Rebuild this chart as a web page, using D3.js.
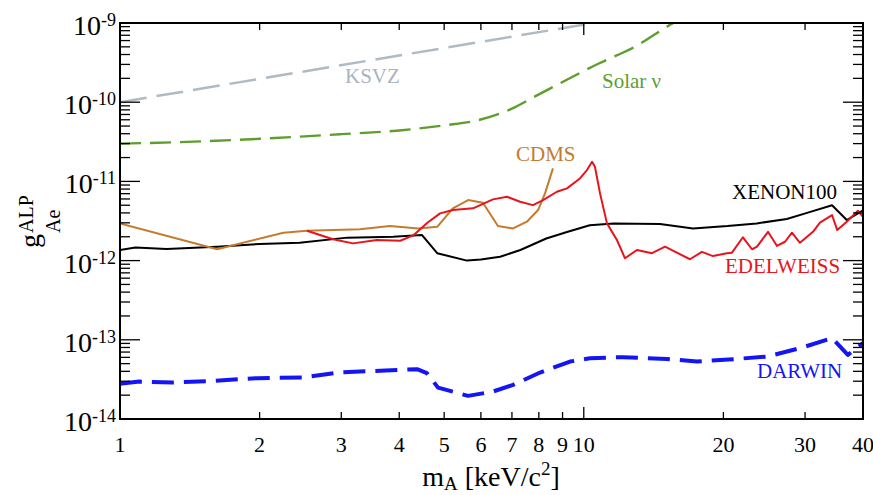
<!DOCTYPE html>
<html>
<head>
<meta charset="utf-8">
<script src="https://cdn.jsdelivr.net/npm/d3@7"></script>
<style>
  body { margin: 0; background: #fff; }
  text { font-family: "Liberation Serif", "Times New Roman", serif; }
</style>
</head>
<body>
<div id="chart"></div>
<script>
// tick labels
var xTickValues = [1, 2, 3, 4, 5, 6, 7, 8, 9, 10, 20, 30, 40];
var yTickExponents = [-9, -10, -11, -12, -13, -14];

// curves, [mass keV, coupling]
var ksvz = [[1, 1.0e-10], [10.5, 1.0e-9]];
var solar = [[1, 3.0e-11], [1.5, 3.2e-11], [2, 3.45e-11], [2.5, 3.7e-11], [3, 3.95e-11],
  [4, 4.4e-11], [5, 5.1e-11], [5.9, 5.9e-11], [7, 8.3e-11], [7.8, 1.16e-10], [9, 1.8e-10],
  [10.8, 3.1e-10], [12.8, 4.9e-10], [15.6, 1.0e-9], [17, 1.3e-9]];
var cdms = [[1, 2.95e-12], [1.62, 1.39e-12], [2.25, 2.25e-12], [2.53, 2.38e-12], [3.29, 2.48e-12],
  [3.82, 2.73e-12], [4.4, 2.55e-12], [4.83, 2.67e-12], [5.22, 4.57e-12], [5.63, 5.81e-12],
  [6.06, 5.37e-12], [6.53, 2.73e-12], [7.04, 2.55e-12], [7.54, 3.1e-12], [7.97, 4.35e-12],
  [8.25, 7.06e-12], [8.58, 1.46e-11]];
var edelweiss = [[2.53, 2.38e-12], [2.88, 1.86e-12], [3.18, 1.65e-12], [3.58, 1.82e-12],
  [4.02, 1.78e-12], [4.3, 2.1e-12], [4.6, 3.0e-12], [4.9, 3.95e-12], [5.22, 4.35e-12],
  [5.77, 4.57e-12], [6.37, 5.93e-12], [6.83, 6.4e-12], [7.29, 5.53e-12], [7.77, 5.02e-12],
  [8.17, 5.81e-12], [8.75, 7.4e-12], [9.2, 8.17e-12], [9.81, 1.09e-11], [10.16, 1.39e-11],
  [10.42, 1.77e-11], [10.57, 1.53e-11], [10.84, 7.06e-12], [11.22, 2.95e-12], [11.79, 1.82e-12],
  [12.27, 1.07e-12], [13.02, 1.36e-12], [14.03, 1.24e-12], [14.97, 1.5e-12], [16.94, 1.04e-12],
  [17.98, 1.29e-12], [18.99, 1.14e-12], [20.36, 1.24e-12], [20.87, 1.26e-12], [22.04, 1.97e-12],
  [23.05, 1.39e-12], [23.63, 1.5e-12], [24.96, 2.31e-12], [26.1, 1.53e-12], [27.16, 1.73e-12],
  [28.11, 2.25e-12], [29.25, 1.68e-12], [31.2, 2.31e-12], [32.3, 3.01e-12], [34.3, 3.76e-12],
  [35.2, 2.43e-12], [36.9, 3.1e-12], [39.0, 4.26e-12], [40, 3.58e-12]];
var xenon = [[1, 1.36e-12], [1.08, 1.46e-12], [1.26, 1.40e-12], [1.62, 1.5e-12], [2.0, 1.62e-12],
  [2.44, 1.68e-12], [3.09, 1.95e-12], [3.88, 2.0e-12], [4.48, 2.1e-12], [4.83, 1.24e-12],
  [5.6, 1.0e-12], [6.0, 1.03e-12], [6.6, 1.12e-12], [7.3, 1.36e-12], [8.3, 1.9e-12], [9.2, 2.3e-12],
  [10.3, 2.8e-12], [11.6, 2.95e-12], [14.6, 2.9e-12], [17.2, 2.55e-12], [20.4, 2.73e-12],
  [23.6, 2.95e-12], [27.4, 3.35e-12], [30.3, 4.0e-12], [34.3, 5.0e-12], [36.9, 3.25e-12],
  [40, 4.3e-12]];
var darwin = [[1, 2.78e-14], [1.1, 2.97e-14], [1.3, 2.89e-14], [1.59, 3.03e-14], [1.98, 3.28e-14],
  [2.48, 3.34e-14], [3.01, 3.9e-14], [3.64, 4.06e-14], [4.37, 4.26e-14], [4.59, 3.79e-14],
  [4.85, 2.49e-14], [5.63, 1.96e-14], [6.37, 2.22e-14], [7.04, 2.7e-14], [8.05, 3.86e-14],
  [9.34, 5.31e-14], [10.31, 5.86e-14], [12.15, 6.04e-14], [15.12, 5.74e-14], [17.54, 5.31e-14],
  [20.97, 5.69e-14], [24.83, 6.14e-14], [29.25, 7.83e-14], [34.3, 1.05e-13], [37.1, 6.45e-14],
  [40, 9.06e-14]];

var width = 873, height = 495;
var margin = { left: 120, right: 863, top: 23, bottom: 419 };

var svg = d3.select("#chart").append("svg")
  .attr("width", width).attr("height", height);

var x = d3.scaleLog().domain([1, 40]).range([margin.left, margin.right]);
var y = d3.scaleLog().domain([1e-14, 1e-9]).range([margin.bottom, margin.top]);

svg.append("clipPath").attr("id", "plotclip")
  .append("rect").attr("x", margin.left).attr("y", margin.top)
  .attr("width", margin.right - margin.left).attr("height", margin.bottom - margin.top);

var line = d3.line()
  .x(function (d) { return x(d[0]); })
  .y(function (d) { return y(d[1]); });

var series = [
  { data: ksvz, color: "#b0bac4", w: 2.5, dash: "27,10", curve: d3.curveLinear },
  { data: solar, color: "#5e9e2c", w: 2.4, dash: "21,9", curve: d3.curveMonotoneX },
  { data: xenon, color: "#000000", w: 2, dash: null, curve: d3.curveLinear },
  { data: cdms, color: "#c47b2e", w: 2, dash: null, curve: d3.curveLinear },
  { data: edelweiss, color: "#e8141c", w: 2, dash: null, curve: d3.curveLinear },
  { data: darwin, color: "#1414f5", w: 4, dash: "22,10", curve: d3.curveLinear }
];

var plot = svg.append("g").attr("clip-path", "url(#plotclip)");
series.forEach(function (s) {
  plot.append("path")
    .attr("d", line.curve(s.curve)(s.data))
    .attr("fill", "none")
    .attr("stroke", s.color)
    .attr("stroke-width", s.w)
    .attr("stroke-linejoin", "round")
    .attr("stroke-dasharray", s.dash);
});

// frame
svg.append("rect").attr("x", margin.left).attr("y", margin.top)
  .attr("width", margin.right - margin.left).attr("height", margin.bottom - margin.top)
  .attr("fill", "none").attr("stroke", "#000").attr("stroke-width", 2);

// x ticks (inward, top and bottom)
var ticks = svg.append("g").attr("stroke", "#000").attr("stroke-width", 1.3);
x.ticks().forEach(function (v) {
  var len = (v === 10) ? 12 : 7;
  ticks.append("line").attr("x1", x(v)).attr("x2", x(v))
    .attr("y1", margin.bottom).attr("y2", margin.bottom - len);
  ticks.append("line").attr("x1", x(v)).attr("x2", x(v))
    .attr("y1", margin.top).attr("y2", margin.top + len);
});
// y ticks (inward, left and right)
y.ticks().forEach(function (v) {
  var major = Math.abs(Math.log10(v) - Math.round(Math.log10(v))) < 1e-6;
  var len = major ? 20 : 10;
  ticks.append("line").attr("x1", margin.left).attr("x2", margin.left + len)
    .attr("y1", y(v)).attr("y2", y(v));
  ticks.append("line").attr("x1", margin.right).attr("x2", margin.right - len)
    .attr("y1", y(v)).attr("y2", y(v));
});

// x tick labels
svg.append("g").selectAll("text").data(xTickValues).enter().append("text")
  .attr("x", function (d) { return x(d); })
  .attr("y", 452)
  .attr("text-anchor", "middle")
  .attr("font-size", 22)
  .text(function (d) { return d; });

// y tick labels
var yl = svg.append("g").selectAll("text").data(yTickExponents).enter().append("text")
  .attr("x", 116)
  .attr("y", function (d) { return y(Math.pow(10, d)) + 12; })
  .attr("text-anchor", "end")
  .attr("font-size", 28);
yl.append("tspan").text("10");
yl.append("tspan").attr("font-size", 18).attr("dy", -9).text(function (d) { return "-" + (-d); });

// x axis title
var xTitle = svg.append("text").attr("x", 491).attr("y", 486)
  .attr("text-anchor", "middle").attr("font-size", 28);
xTitle.append("tspan").text("m");
xTitle.append("tspan").attr("font-size", 19).attr("dy", 4).text("A");
xTitle.append("tspan").attr("dy", -4).text(" [keV/c");
xTitle.append("tspan").attr("font-size", 19).attr("dy", -11).text("2");
xTitle.append("tspan").attr("dy", 11).text("]");

// y axis title (rotated)
var yTitle = svg.append("g").attr("transform", "translate(39,248) rotate(-90)");
yTitle.append("text").attr("x", 0).attr("y", 0).attr("font-size", 28).text("g");
yTitle.append("text").attr("x", 15).attr("y", -6).attr("font-size", 20).text("ALP");
yTitle.append("text").attr("x", 15).attr("y", 21).attr("font-size", 20).text("Ae");

// curve labels
var curveLabels = [
  { text: "KSVZ", color: "#aab4bf", x: 345, y: 83 },
  { text: "Solar \u03bd", color: "#5e9e2c", x: 602, y: 88 },
  { text: "CDMS", color: "#c47b2e", x: 516, y: 161 },
  { text: "XENON100", color: "#000000", x: 732, y: 199 },
  { text: "EDELWEISS", color: "#e8141c", x: 725, y: 273 },
  { text: "DARWIN", color: "#1414f5", x: 757, y: 378 }
];
svg.append("g").selectAll("text").data(curveLabels).enter().append("text")
  .attr("x", function (d) { return d.x; })
  .attr("y", function (d) { return d.y; })
  .attr("fill", function (d) { return d.color; })
  .attr("font-size", 21)
  .text(function (d) { return d.text; });
</script>
</body>
</html>
